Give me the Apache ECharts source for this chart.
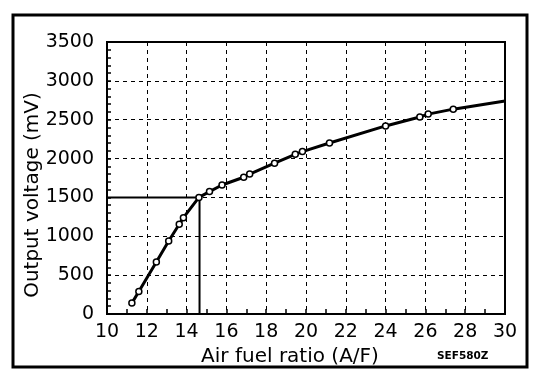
<!DOCTYPE html>
<html>
<head>
<meta charset="utf-8">
<style>
  html, body { margin: 0; padding: 0; background: #fff; }
  #chart { width: 560px; height: 382px; }
</style>
<script src="https://cdn.jsdelivr.net/npm/echarts@6/dist/echarts.min.js"></script>
</head>
<body>
<div id="chart"></div>
<script>
var afr = [11.25, 11.6, 12.48, 13.1, 13.63, 13.84, 14.62, 15.15, 15.78, 16.87, 17.17, 18.42, 19.46, 19.82, 21.18, 24.0, 25.72, 26.14, 27.4];
var mv = [140, 290, 670, 940, 1155, 1240, 1500, 1575, 1660, 1760, 1800, 1940, 2055, 2090, 2200, 2420, 2535, 2572, 2636];
// the curve runs on to the right edge without a marker
var endPoint = [30, 2742];
// stoichiometric guide: 14.65 A/F at 1500 mV
var refLine = [[10, 1500], [14.65, 1500], [14.65, 0]];

var xTicks = { min: 10, max: 30, step: 2 };
var yTicks = { min: 0, max: 3500, step: 500 };

var font = 'DejaVu Sans';

var pts = afr.map(function(v, i) { return [v, mv[i]]; });
var curve = pts.concat([endPoint]);

var dashed = { color: '#000', width: 1, type: [4, 4] };

var option = {
  animation: false,
  backgroundColor: '#fff',
  grid: {
    left: 107,
    right: 55,
    top: 42,
    bottom: 68,
    show: true,
    borderColor: '#000',
    borderWidth: 2,
    backgroundColor: 'transparent'
  },
  xAxis: {
    type: 'value',
    min: xTicks.min,
    max: xTicks.max,
    interval: xTicks.step,
    name: 'Air fuel ratio (A/F)',
    nameLocation: 'middle',
    nameGap: 33,
    nameMoveOverlap: false,
    nameTextStyle: {
      color: '#000',
      fontFamily: font,
      fontSize: 20,
      padding: [0, 32, 0, 0]
    },
    axisLine: { lineStyle: { color: '#000', width: 2 } },
    axisTick: { show: true, inside: true, length: 5, lineStyle: { color: '#000', width: 1.5 } },
    minorTick: { show: true, splitNumber: 2, length: 5, lineStyle: { color: '#000', width: 1.5 } },
    axisLabel: {
      color: '#000', fontFamily: font, fontSize: 19, margin: 9,
      formatter: function(v) { return String(v); }
    },
    splitLine: { show: true, lineStyle: dashed }
  },
  yAxis: {
    type: 'value',
    min: yTicks.min,
    max: yTicks.max,
    interval: yTicks.step,
    name: 'Output voltage (mV)',
    nameLocation: 'middle',
    nameGap: 64,
    nameMoveOverlap: false,
    nameTextStyle: {
      color: '#000',
      fontFamily: font,
      fontSize: 20,
      padding: [0, 34, 0, 0]
    },
    axisLine: { show: true, lineStyle: { color: '#000', width: 2 } },
    axisTick: { show: true, inside: true, length: 4, lineStyle: { color: '#000', width: 1.5 } },
    minorTick: { show: true, splitNumber: 5, length: 4, lineStyle: { color: '#000', width: 1.5 } },
    axisLabel: {
      color: '#000', fontFamily: font, fontSize: 19, margin: 13,
      formatter: function(v) { return String(v); }
    },
    splitLine: { show: true, lineStyle: dashed }
  },
  series: [
    {
      type: 'line',
      data: refLine,
      symbol: 'none',
      lineStyle: { color: '#000', width: 2 },
      z: 3
    },
    {
      type: 'line',
      data: curve,
      symbol: 'none',
      lineStyle: { color: '#000', width: 3 },
      z: 4
    },
    {
      type: 'scatter',
      data: pts,
      symbol: 'circle',
      symbolSize: 6,
      itemStyle: { color: '#fff', borderColor: '#000', borderWidth: 1.5, opacity: 1 },
      z: 5
    }
  ],
  graphic: [
    {
      type: 'rect',
      shape: { x: 13, y: 15, width: 514, height: 352 },
      style: { fill: 'none', stroke: '#000', lineWidth: 3 }
    },
    {
      type: 'text',
      left: 437,
      top: 351,
      style: { text: 'SEF580Z', fill: '#000', font: 'bold 10.5px "DejaVu Sans"' }
    }
  ]
};

var myChart = echarts.init(document.getElementById('chart'), null, { renderer: 'canvas' });
myChart.setOption(option);
</script>
</body>
</html>
